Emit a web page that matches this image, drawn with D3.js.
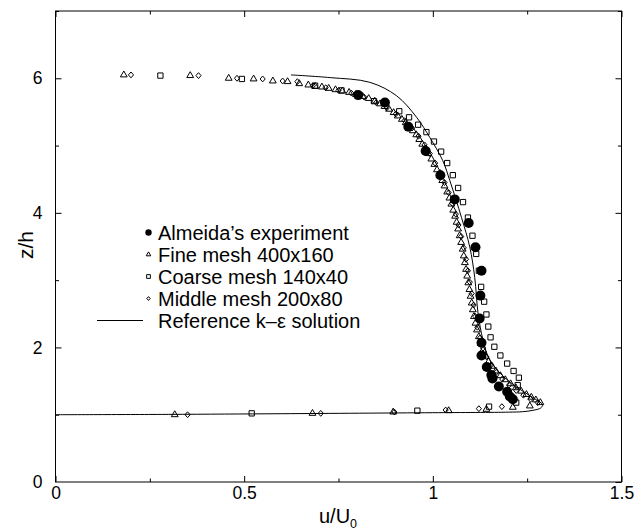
<!DOCTYPE html>
<html>
<head>
<meta charset="utf-8">
<script src="https://cdn.jsdelivr.net/npm/d3@7"></script>
<style>
  html, body { margin: 0; padding: 0; background: #fff; }
  svg { display: block; }
  text { font-family: "Liberation Sans", Arial, Helvetica, sans-serif; fill: #000; }
</style>
</head>
<body>
<svg id="chart" width="642" height="532"></svg>
<script>
// ---------------- data ----------------
const xTicksMajor = [0, 0.5, 1, 1.5];
const xTickLabels = ["0", "0.5", "1", "1.5"];
const xTicksMinor = [0.25, 0.75, 1.25];
const yTicksMajor = [0, 2, 4, 6];
const yTickLabels = ["0", "2", "4", "6"];
const yTicksMinor = [1, 3, 5, 7];

const seriesNames = ["Almeida\u2019s experiment", "Fine mesh 400x160", "Coarse mesh 140x40", "Middle mesh 200x80", "Reference k\u2013\u03b5 solution"];

// Almeida's experiment (filled circles)
const expU = [0.802, 0.873, 0.935, 0.981, 1.020, 1.058, 1.095, 1.113, 1.129, 1.126, 1.124, 1.129, 1.129, 1.143, 1.155, 1.158, 1.175, 1.197, 1.204, 1.212];
const expZ = [5.75, 5.64, 5.28, 4.92, 4.56, 4.20, 3.85, 3.49, 3.14, 2.77, 2.43, 2.07, 1.88, 1.71, 1.59, 1.54, 1.42, 1.34, 1.27, 1.23];

// Fine mesh 400x160 (triangles)
const fineU = [0.181, 0.357, 0.459, 0.525, 0.576, 0.615, 0.646,
  0.670, 0.688, 0.706, 0.724, 0.742, 0.760, 0.778, 0.796, 0.814, 0.830, 0.846, 0.860, 0.872, 0.884, 0.896, 0.907, 0.918, 0.928, 0.938, 0.947,
  0.956, 0.964, 0.972, 0.980, 0.988, 0.996, 1.004, 1.011, 1.018, 1.025, 1.031, 1.038, 1.044, 1.049, 1.054, 1.059, 1.063, 1.067, 1.071, 1.075,
  1.079, 1.082, 1.085, 1.088, 1.091, 1.094, 1.097, 1.100, 1.103, 1.106, 1.109, 1.113, 1.117, 1.122, 1.127, 1.133, 1.140, 1.148, 1.157, 1.167,
  1.179, 1.192, 1.206, 1.220, 1.234, 1.248, 1.261, 1.273, 1.285,
  1.257, 1.212, 1.142, 1.042, 0.895, 0.681, 0.316];
const fineZ = [6.05, 6.04, 6.00, 5.99, 5.96, 5.95, 5.92,
  5.90, 5.88, 5.87, 5.85, 5.83, 5.81, 5.79, 5.76, 5.73, 5.70, 5.66, 5.62, 5.58, 5.54, 5.49, 5.44, 5.39, 5.34, 5.28, 5.22,
  5.16, 5.09, 5.02, 4.95, 4.88, 4.80, 4.72, 4.64, 4.56, 4.48, 4.40, 4.31, 4.22, 4.13, 4.04, 3.95, 3.86, 3.76, 3.66, 3.56,
  3.46, 3.36, 3.26, 3.16, 3.06, 2.96, 2.86, 2.76, 2.66, 2.56, 2.46, 2.36, 2.26, 2.16, 2.06, 1.96, 1.87, 1.79, 1.72, 1.65,
  1.58, 1.52, 1.46, 1.40, 1.35, 1.30, 1.26, 1.22, 1.18,
  1.13, 1.11, 1.08, 1.06, 1.04, 1.02, 1.00];

// Coarse mesh 140x40 (squares)
const coarseU = [0.278, 0.494, 0.688, 0.758, 0.844, 0.911, 0.937, 0.961, 0.983, 1.003, 1.022, 1.038, 1.053, 1.067, 1.080, 1.093, 1.105,
  1.115, 1.122, 1.128, 1.136, 1.142, 1.147, 1.153, 1.163, 1.179, 1.197, 1.214, 1.228, 1.225, 1.221, 1.149, 0.959, 0.520];
const coarseZ = [6.04, 5.99, 5.89, 5.82, 5.66, 5.51, 5.42, 5.31, 5.20, 5.06, 4.91, 4.74, 4.56, 4.37, 4.16, 3.93, 3.66,
  3.39, 3.14, 2.90, 2.68, 2.49, 2.31, 2.15, 2.01, 1.88, 1.76, 1.65, 1.55, 1.44, 1.18, 1.12, 1.06, 1.02];

// Middle mesh 200x80 (diamonds)
const middleU = [0.200, 0.379, 0.481, 0.549, 0.602, 0.641,
  0.682, 0.716, 0.750, 0.784, 0.818, 0.850, 0.878, 0.902, 0.925, 0.945, 0.962, 0.978, 0.992, 1.006, 1.019, 1.031, 1.042, 1.052,
  1.061, 1.068, 1.075, 1.082, 1.088, 1.093, 1.098, 1.103, 1.108, 1.113, 1.118, 1.125, 1.133, 1.142, 1.154, 1.168, 1.184, 1.202,
  1.221, 1.240, 1.259, 1.278,
  1.183, 1.122, 1.034, 0.898, 0.703, 0.350];
const middleZ = [6.05, 6.04, 6.00, 5.99, 5.96, 5.95,
  5.89, 5.86, 5.82, 5.78, 5.72, 5.64, 5.56, 5.47, 5.37, 5.26, 5.14, 5.01, 4.88, 4.74, 4.60, 4.45, 4.30, 4.14,
  3.98, 3.82, 3.65, 3.48, 3.31, 3.14, 2.97, 2.80, 2.63, 2.46, 2.30, 2.14, 1.99, 1.86, 1.74, 1.63, 1.53, 1.44,
  1.36, 1.29, 1.23, 1.18,
  1.12, 1.09, 1.07, 1.04, 1.02, 1.00];

// Reference k-epsilon solution (line)
const refU = [0.624, 0.728, 0.833, 0.904, 0.957, 0.992, 1.026, 1.045, 1.076, 1.098, 1.111, 1.120, 1.133, 1.151, 1.185, 1.225, 1.258, 1.280, 1.291, 1.286, 1.265, 1.238, 1.20, 1.0, 0.6, 0.3, 0.0];
const refZ = [6.05, 6.01, 5.94, 5.74, 5.42, 5.12, 4.78, 4.48, 3.93, 3.49, 3.04, 2.50, 2.11, 1.81, 1.58, 1.40, 1.28, 1.20, 1.15, 1.10, 1.065, 1.045, 1.038, 1.03, 1.015, 1.005, 1.00];

// ---------------- drawing ----------------
const svg = d3.select("#chart");
const x = d3.scaleLinear().domain([0, 1.5]).range([55.5, 621.5]);
const y = d3.scaleLinear().domain([0, 7]).range([482, 11]);

const zip = (us, zs) => us.map((u, i) => ({u: u, z: zs[i]}));

// custom diamond symbol (square rotated 45deg, slightly tall)
const diamondSym = {
  draw(ctx, size) {
    const r = Math.sqrt(size) / 2;
    const h = r * 1.15;
    ctx.moveTo(0, -h); ctx.lineTo(r, 0); ctx.lineTo(0, h); ctx.lineTo(-r, 0); ctx.closePath();
  }
};

// axes (inward ticks on all four sides)
function styleAxis(g, fs) {
  g.select(".domain").remove();
  g.selectAll(".tick line").attr("stroke", "#000").attr("stroke-width", 1);
  g.selectAll(".tick text").attr("font-size", fs).attr("font-family", "Liberation Sans, Arial, sans-serif").attr("fill", "#000");
}
const gB = svg.append("g").attr("transform", "translate(0,482)")
  .call(d3.axisBottom(x).tickValues(xTicksMajor).tickFormat((d, i) => xTickLabels[i]).tickSize(-6).tickPadding(5));
styleAxis(gB, 17.5);
const gBm = svg.append("g").attr("transform", "translate(0,482)")
  .call(d3.axisBottom(x).tickValues(xTicksMinor).tickFormat("").tickSize(-3.5));
styleAxis(gBm, 1);
const gT = svg.append("g").attr("transform", "translate(0,11)")
  .call(d3.axisTop(x).tickValues(xTicksMajor).tickFormat("").tickSize(-6));
styleAxis(gT, 1);
const gTm = svg.append("g").attr("transform", "translate(0,11)")
  .call(d3.axisTop(x).tickValues(xTicksMinor).tickFormat("").tickSize(-3.5));
styleAxis(gTm, 1);
const gL = svg.append("g").attr("transform", "translate(55.5,0)")
  .call(d3.axisLeft(y).tickValues(yTicksMajor).tickFormat((d, i) => yTickLabels[i]).tickSize(-6).tickPadding(13));
styleAxis(gL, 17.5);
gL.selectAll(".tick").filter(d => d === 0).select("line").remove();
const gLm = svg.append("g").attr("transform", "translate(55.5,0)")
  .call(d3.axisLeft(y).tickValues(yTicksMinor).tickFormat("").tickSize(-3.5));
styleAxis(gLm, 1);
const gR = svg.append("g").attr("transform", "translate(621.5,0)")
  .call(d3.axisRight(y).tickValues(yTicksMajor).tickFormat("").tickSize(-6));
styleAxis(gR, 1);
const gRm = svg.append("g").attr("transform", "translate(621.5,0)")
  .call(d3.axisRight(y).tickValues(yTicksMinor).tickFormat("").tickSize(-3.5));
styleAxis(gRm, 1);

// frame
svg.append("rect")
  .attr("x", x(0)).attr("y", y(7))
  .attr("width", x(1.5) - x(0)).attr("height", y(0) - y(7))
  .attr("fill", "none").attr("stroke", "#000").attr("stroke-width", 1);

// axis titles
svg.append("text").attr("x", 338).attr("y", 523).attr("text-anchor", "middle").attr("font-size", 20)
  .text("u/U").append("tspan").attr("font-size", 12.5).attr("dy", 5).text("0");
svg.append("text").attr("transform", "translate(33,245) rotate(-90)").attr("text-anchor", "middle").attr("font-size", 21)
  .text("z/h");

const plot = svg.append("g");

// reference line
const line = d3.line().x(d => x(d.u)).y(d => y(d.z)).curve(d3.curveCatmullRom.alpha(0.5));
plot.append("path").datum(zip(refU, refZ)).attr("d", line)
  .attr("fill", "none").attr("stroke", "#000").attr("stroke-width", 1);

// open markers
function drawSymbols(data, type, size) {
  plot.append("g").selectAll("path").data(data).join("path")
    .attr("transform", d => `translate(${x(d.u)},${y(d.z)})`)
    .attr("d", d3.symbol().type(type).size(size))
    .attr("fill", "none").attr("stroke", "#000").attr("stroke-width", 1);
}
drawSymbols(zip(coarseU, coarseZ), d3.symbolSquare, 28);
drawSymbols(zip(middleU, middleZ), diamondSym, 26);
drawSymbols(zip(fineU, fineZ), d3.symbolTriangle, 20);

// experiment filled circles
plot.append("g").selectAll("circle").data(zip(expU, expZ)).join("circle")
  .attr("cx", d => x(d.u)).attr("cy", d => y(d.z)).attr("r", 5).attr("fill", "#000");

// legend
const legY = [232.5, 254.5, 276.5, 298.5, 320.5];
const leg = svg.append("g");
leg.append("circle").attr("cx", 148.5).attr("cy", legY[0]).attr("r", 3.2).attr("fill", "#000");
leg.append("path").attr("transform", `translate(148.5,${legY[1]})`).attr("d", d3.symbol().type(d3.symbolTriangle).size(9))
  .attr("fill", "none").attr("stroke", "#000");
leg.append("path").attr("transform", `translate(148.5,${legY[2]})`).attr("d", d3.symbol().type(d3.symbolSquare).size(14))
  .attr("fill", "none").attr("stroke", "#000");
leg.append("path").attr("transform", `translate(148.5,${legY[3]})`).attr("d", d3.symbol().type(diamondSym).size(11))
  .attr("fill", "none").attr("stroke", "#000");
leg.append("line").attr("x1", 97).attr("x2", 143).attr("y1", legY[4]).attr("y2", legY[4])
  .attr("stroke", "#000").attr("stroke-width", 1);
seriesNames.forEach((n, i) => {
  leg.append("text").attr("x", 158).attr("y", legY[i] + 7).attr("font-size", 20).text(n);
});
</script>
</body>
</html>
